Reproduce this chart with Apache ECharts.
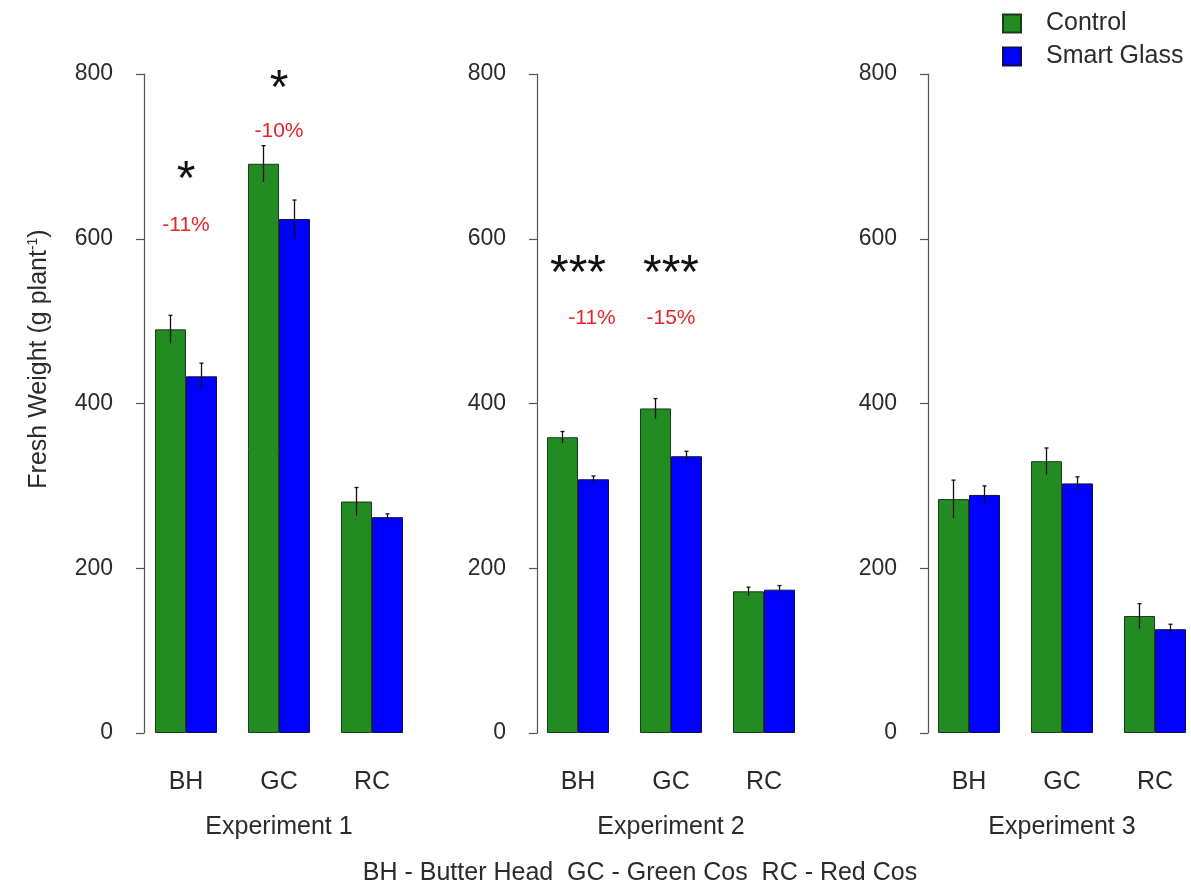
<!DOCTYPE html>
<html>
<head>
  <meta charset="utf-8">
  <title>Fresh weight - Control vs Smart Glass</title>
  <script src="https://cdn.jsdelivr.net/npm/echarts@6.0.0/dist/echarts.min.js"></script>
  <style>
    html, body { margin: 0; padding: 0; background: #fff; }
    #chart { width: 1191px; height: 887px; }
  </style>
</head>
<body>
<div id="chart"></div>
<script>
  // data (g per plant)
  var categories = ['BH', 'GC', 'RC'];
  var yTicks = [0, 200, 400, 600, 800];

  var control1 = [490, 691, 281];
  var smart1 = [433, 624, 262];
  var control1Err = [17, 22, 17];
  var smart1Err = [16, 23, 4];

  var control2 = [359, 394, 172];
  var smart2 = [308, 336, 174];
  var control2Err = [7, 12, 5];
  var smart2Err = [4, 6, 5];

  var control3 = [284, 330, 142];
  var smart3 = [289, 303, 126];
  var control3Err = [23, 16, 15];
  var smart3Err = [11, 8, 6];

  var sig1 = ['*', '*', ''];
  var pct1 = ['-11%', '-10%', ''];
  var sig2 = ['***', '***', ''];
  var pct2 = ['-11%', '-15%', ''];

  var experiments = ['Experiment 1', 'Experiment 2', 'Experiment 3'];

  var GREEN = '#228b22', BLUE = '#0000ff', TXT = '#2b2b2b', RED = '#e3262a';
  var font = 'Liberation Sans, Arial, sans-serif';

  var chart = echarts.init(document.getElementById('chart'));

  // panel placement
  var panels = [
    {left: 139.5, axisOff: -4.5},
    {left: 531.5, axisOff: -5.5},
    {left: 922.5, axisOff: -5.5}
  ];

  var grids = [], xAxes = [], yAxes = [], series = [];

  function errSeries(idx, vals, errs, side) {
    return {
      type: 'custom',
      xAxisIndex: idx, yAxisIndex: idx,
      silent: true, z: 5,
      data: vals.map(function (v, i) { return [i, v, errs[i]]; }),
      renderItem: function (params, api) {
        var c = api.value(0), v = api.value(1), e = api.value(2);
        var band = api.size([1, 0])[0];
        var x = api.coord([c, v])[0] + side * band / 6;
        var y1 = api.coord([c, v + e])[1];
        var y2 = api.coord([c, v - e])[1];
        var st = {stroke: '#111', lineWidth: 1.3};
        return {
          type: 'group',
          children: [
            {type: 'line', shape: {x1: x, y1: y1, x2: x, y2: y2}, style: st},
            {type: 'line', shape: {x1: x - 2, y1: y1, x2: x + 2, y2: y1}, style: st}
          ]
        };
      }
    };
  }

  function textSeries(idx, items) {
    return {
      type: 'custom',
      xAxisIndex: idx, yAxisIndex: idx,
      silent: true, z: 6,
      data: items,
      renderItem: function (params, api) {
        var it = items[params.dataIndex];
        var p = api.coord([it[0], it[1]]);
        var star = it[3] === 'sig';
        return {
          type: 'text',
          x: p[0] + (it[4] || 0), y: p[1],
          style: {
            text: it[2],
            fontSize: star ? 48 : 21,
            fontFamily: font,
            fill: star ? '#111' : RED,
            align: 'center',
            verticalAlign: 'middle'
          }
        };
      }
    };
  }

  var controls = [control1, control2, control3];
  var smarts = [smart1, smart2, smart3];
  var cErrs = [control1Err, control2Err, control3Err];
  var sErrs = [smart1Err, smart2Err, smart3Err];

  panels.forEach(function (p, i) {
    grids.push({left: p.left, width: 279, top: 74, height: 659, outerBoundsMode: 'none', containLabel: false});
    xAxes.push({
      type: 'category', gridIndex: i, data: categories,
      axisLine: {show: false}, axisTick: {show: false},
      axisLabel: {color: TXT, fontSize: 25, fontFamily: font, margin: 37},
      name: experiments[i], nameLocation: 'middle', nameGap: 82,
      nameTextStyle: {color: TXT, fontSize: 25, fontFamily: font}
    });
    yAxes.push({
      type: 'value', gridIndex: i, min: 0, max: 800, interval: 200,
      offset: p.axisOff,
      splitLine: {show: false},
      axisLine: {show: true, lineStyle: {color: '#555', width: 1.2}},
      axisTick: {show: true, length: 8, lineStyle: {color: '#555', width: 1.2}},
      axisLabel: {
        color: TXT, fontSize: 23, fontFamily: font, margin: 31,
        formatter: function (v) { return yTicks.indexOf(v) >= 0 ? String(v) : ''; }
      }
    });
    series.push({
      name: 'Control', type: 'bar', xAxisIndex: i, yAxisIndex: i,
      data: controls[i], barGap: '0%', barCategoryGap: '33.33%',
      itemStyle: {color: GREEN, borderColor: '#1c3a1c', borderWidth: 1}
    });
    series.push({
      name: 'Smart Glass', type: 'bar', xAxisIndex: i, yAxisIndex: i,
      data: smarts[i], barGap: '0%', barCategoryGap: '33.33%',
      itemStyle: {color: BLUE, borderColor: '#101050', borderWidth: 1}
    });
    series.push(errSeries(i, controls[i], cErrs[i], -1));
    series.push(errSeries(i, smarts[i], sErrs[i], 1));
  });

  // significance marks and percentage change
  series.push(textSeries(0, [
    [0, 670, sig1[0], 'sig'], [0, 616, pct1[0], 'pct'],
    [1, 781, sig1[1], 'sig'], [1, 730, pct1[1], 'pct']
  ]));
  series.push(textSeries(1, [
    [0, 556, sig2[0], 'sig'], [0, 503, pct2[0], 'pct', 14],
    [1, 556, sig2[1], 'sig'], [1, 503, pct2[1], 'pct']
  ]));

  chart.setOption({
    animation: false,
    backgroundColor: '#fff',
    legend: {
      data: ['Control', 'Smart Glass'],
      orient: 'vertical', left: 997, top: 6,
      itemWidth: 18, itemHeight: 18, itemGap: 8,
      icon: 'rect',
      textStyle: {color: TXT, fontSize: 25, fontFamily: font, padding: [0, 0, 0, 20]}
    },
    grid: grids,
    xAxis: xAxes,
    yAxis: yAxes,
    series: series,
    graphic: [
      {
        type: 'text', x: 39, y: 359, rotation: Math.PI / 2,
        style: {
          text: '{a|Fresh Weight (g plant}{s|-1}{a|)}',
          align: 'center', verticalAlign: 'middle',
          rich: {
            a: {fontSize: 25, fontFamily: font, fill: TXT, color: TXT},
            s: {fontSize: 14, fontFamily: font, fill: TXT, color: TXT, verticalAlign: 'top', padding: [0, 0, 12, 0]}
          }
        }
      },
      {
        type: 'text', x: 640, y: 873,
        style: {
          text: 'BH - Butter Head  GC - Green Cos  RC - Red Cos',
          fontSize: 25, fontFamily: font, fill: TXT,
          align: 'center', verticalAlign: 'middle'
        }
      }
    ]
  });
</script>
</body>
</html>
